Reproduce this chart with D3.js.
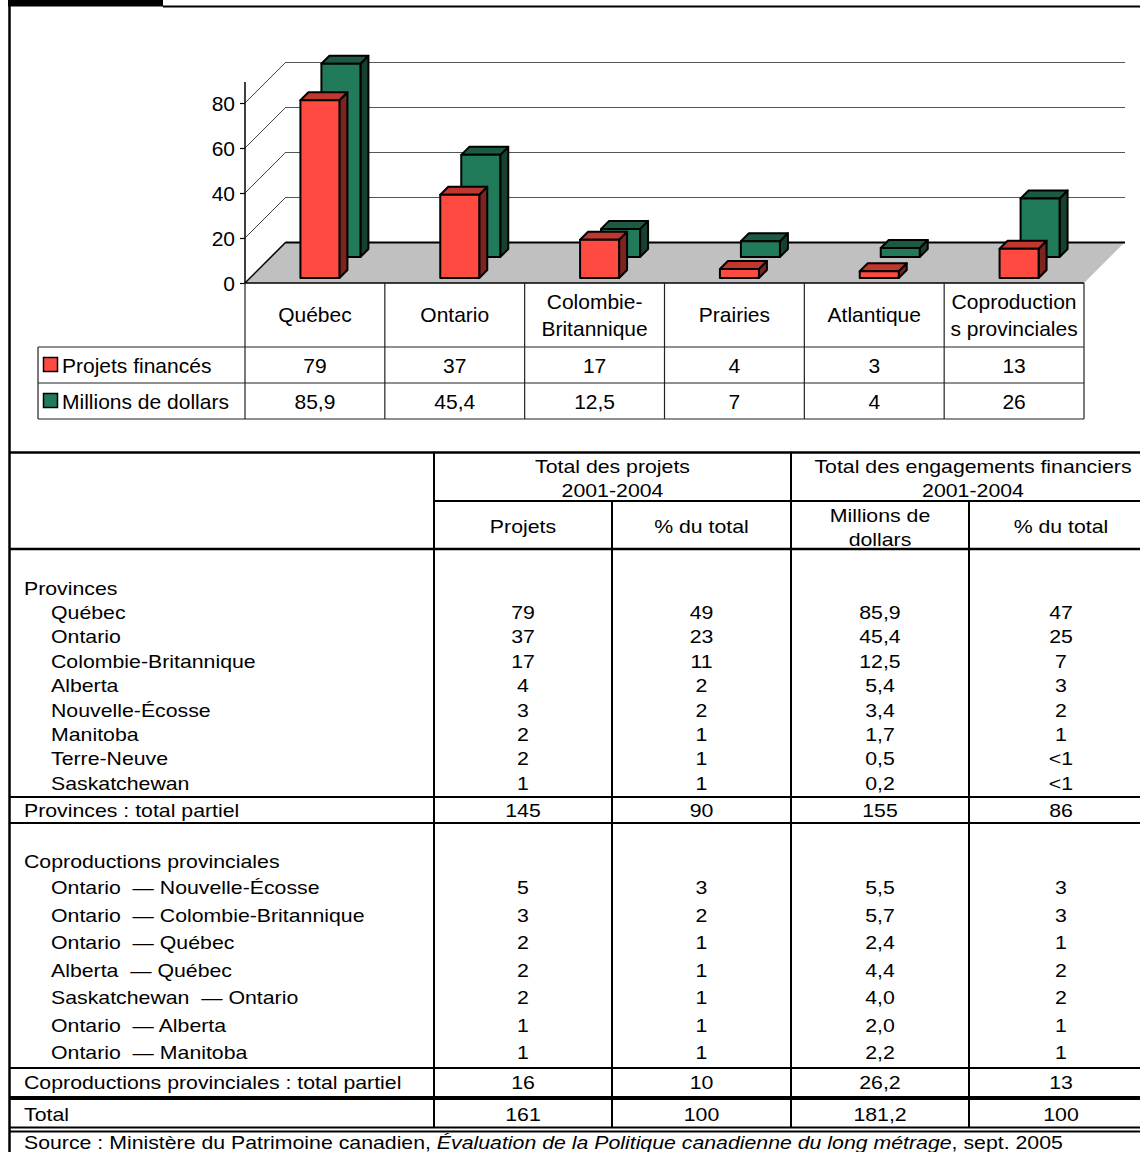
<!DOCTYPE html>
<html lang="fr">
<head>
<meta charset="utf-8">
<script src="https://cdn.jsdelivr.net/npm/d3@7"></script>
<style>
  html, body { margin: 0; padding: 0; background: #fff; }
  svg { display: block; font-family: Arial, "Liberation Sans", Helvetica, sans-serif; }
  text { fill: #000; }
</style>
</head>
<body>
<svg id="chart" width="1140" height="1152"></svg>
<script>
// Chart data: funded projects and commitments by region
const categories = [["Québec"], ["Ontario"], ["Colombie-", "Britannique"], ["Prairies"], ["Atlantique"], ["Coproduction", "s provinciales"]];
const projetsFinances = [79, 37, 17, 4, 3, 13];
const millionsDollars = [85.9, 45.4, 12.5, 7, 4, 26];
const seriesNames = ["Projets financés", "Millions de dollars"];
const yTicks = [0, 20, 40, 60, 80];

// Table data
const provinces = ["Québec", "Ontario", "Colombie-Britannique", "Alberta", "Nouvelle-Écosse", "Manitoba", "Terre-Neuve", "Saskatchewan"];
const provProjets = ["79", "37", "17", "4", "3", "2", "2", "1"];
const provPctProjets = ["49", "23", "11", "2", "2", "1", "1", "1"];
const provMillions = ["85,9", "45,4", "12,5", "5,4", "3,4", "1,7", "0,5", "0,2"];
const provPctMillions = ["47", "25", "7", "3", "2", "1", "<1", "<1"];
const provTotal = ["145", "90", "155", "86"];

const coproductions = ["Ontario  — Nouvelle-Écosse", "Ontario  — Colombie-Britannique", "Ontario  — Québec", "Alberta  — Québec", "Saskatchewan  — Ontario", "Ontario  — Alberta", "Ontario  — Manitoba"];
const coproProjets = ["5", "3", "2", "2", "2", "1", "1"];
const coproPctProjets = ["3", "2", "1", "1", "1", "1", "1"];
const coproMillions = ["5,5", "5,7", "2,4", "4,4", "4,0", "2,0", "2,2"];
const coproPctMillions = ["3", "3", "1", "2", "2", "1", "1"];
const coproTotal = ["16", "10", "26,2", "13"];
const grandTotal = ["161", "100", "181,2", "100"];

const svg = d3.select("#chart");
const FONT = 21;
const TFONT = 21.3;
const fmt = v => String(v).replace(".", ",");

// ---------- outer frame ----------
svg.append("rect").attr("x", 8).attr("y", 0).attr("width", 155).attr("height", 6.5).attr("fill", "#000");
svg.append("line").attr("x1", 163).attr("x2", 1140).attr("y1", 6.5).attr("y2", 6.5).attr("stroke", "#000").attr("stroke-width", 2);
svg.append("line").attr("x1", 9.5).attr("x2", 9.5).attr("y1", 0).attr("y2", 1152).attr("stroke", "#000").attr("stroke-width", 2.5);

// ---------- 3D column chart ----------
const x0 = 245, x1 = 1084;           // front plane extent
const floorY = 283;                  // front baseline
const depth = 41;                    // wall depth (x and y offset)
const x = d3.scaleBand().domain(d3.range(categories.length)).range([x0, x1]).padding(0);
const y = d3.scaleLinear().domain([0, 80]).range([floorY, 103]);
const barW = 39, barD = 8;
const seriesDepth = [5, 26];
const seriesColors = [
  { front: "#ff4a42", side: "#7c2420", top: "#c0372f" },
  { front: "#217a5a", side: "#17412f", top: "#1c5a42" }
];

const chart = svg.append("g");

// floor
chart.append("polygon")
  .attr("points", [[x0, floorY], [x1, floorY], [x1 + depth, floorY - depth], [x0 + depth, floorY - depth]].join(" "))
  .attr("fill", "#c0c0c0");

// back wall gridlines and left wall diagonals
yTicks.forEach(t => {
  const yy = Math.round(y(t) - depth) + 0.5;
  chart.append("line")
    .attr("x1", x0 + depth).attr("x2", x1 + depth)
    .attr("y1", yy).attr("y2", yy)
    .attr("stroke", t === 0 ? "#000" : "#555").attr("stroke-width", t === 0 ? 2 : 1.2);
  chart.append("line")
    .attr("x1", x0).attr("y1", y(t))
    .attr("x2", x0 + depth).attr("y2", y(t) - depth)
    .attr("stroke", t === 0 ? "#000" : "#444").attr("stroke-width", t === 0 ? 1.5 : 1);
});

// vertical axis
chart.append("line").attr("x1", x0).attr("x2", x0).attr("y1", y(89.3)).attr("y2", floorY).attr("stroke", "#000").attr("stroke-width", 1.5);
const yAxis = d3.axisLeft(y).tickValues(yTicks).tickSize(5).tickPadding(5);
const ag = chart.append("g").attr("transform", `translate(${x0},0)`).call(yAxis);
ag.select(".domain").remove();
ag.selectAll(".tick line").attr("stroke", "#000").attr("stroke-width", 1.2);
ag.selectAll(".tick text").attr("font-size", FONT).attr("font-family", "Arial, 'Liberation Sans', sans-serif").attr("fill", "#000").attr("dy", "0.35em");

// bars: back series first
[1, 0].forEach(s => {
  const values = s === 0 ? projetsFinances : millionsDollars;
  const dz = seriesDepth[s];
  const col = seriesColors[s];
  const g = chart.append("g");
  values.forEach((v, i) => {
    const cx = x(i) + x.bandwidth() / 2 + dz;
    const L = cx - barW / 2, R = cx + barW / 2;
    const top = y(v) - dz, bot = floorY - dz;
    const stroke = { stroke: "#000", "stroke-width": 2, "stroke-linejoin": "round" };
    const side = g.append("polygon").attr("points", [[R, top], [R + barD, top - barD], [R + barD, bot - barD], [R, bot]].join(" ")).attr("fill", col.side);
    const tp = g.append("polygon").attr("points", [[L, top], [L + barD, top - barD], [R + barD, top - barD], [R, top]].join(" ")).attr("fill", col.top);
    const fr = g.append("rect").attr("x", L).attr("y", top).attr("width", barW).attr("height", bot - top).attr("fill", col.front);
    [side, tp, fr].forEach(el => Object.entries(stroke).forEach(([k, val]) => el.attr(k, val)));
  });
});

// front edge of floor
chart.append("line").attr("x1", x0).attr("x2", x1).attr("y1", floorY).attr("y2", floorY).attr("stroke", "#000").attr("stroke-width", 1.5);

// ---------- data table under the chart ----------
const dt = svg.append("g");
const row1 = [347, 383], row2 = [383, 419];
const legendX = 38;
const gridStroke = { stroke: "#222", "stroke-width": 1.2 };
function hline(g, xa, xb, yy, st) { const l = g.append("line").attr("x1", xa).attr("x2", xb).attr("y1", yy).attr("y2", yy); Object.entries(st).forEach(([k, v]) => l.attr(k, v)); return l; }
function vline(g, xx, ya, yb, st) { const l = g.append("line").attr("x1", xx).attr("x2", xx).attr("y1", ya).attr("y2", yb); Object.entries(st).forEach(([k, v]) => l.attr(k, v)); return l; }

// vertical separators
categories.forEach((c, i) => vline(dt, x(i), floorY, row2[1], gridStroke));
vline(dt, x1, floorY, row2[1], gridStroke);
vline(dt, legendX, row1[0], row2[1], gridStroke);
hline(dt, legendX, x1, row1[0], gridStroke);
hline(dt, legendX, x1, row2[0], gridStroke);
hline(dt, legendX, x1, row2[1], gridStroke);

// category labels
categories.forEach((lines, i) => {
  const cx = x(i) + x.bandwidth() / 2;
  const t = dt.append("text").attr("text-anchor", "middle").attr("font-size", FONT);
  if (lines.length === 1) {
    t.append("tspan").attr("x", cx).attr("y", 322).text(lines[0]);
  } else {
    t.append("tspan").attr("x", cx).attr("y", 309).text(lines[0]);
    t.append("tspan").attr("x", cx).attr("y", 336).text(lines[1]);
  }
});

// legend rows with swatches and values
[projetsFinances, millionsDollars].forEach((vals, s) => {
  const r = s === 0 ? row1 : row2;
  const mid = (r[0] + r[1]) / 2;
  dt.append("rect").attr("x", 43.5).attr("y", mid - 7.5).attr("width", 14).attr("height", 14)
    .attr("fill", seriesColors[s].front).attr("stroke", "#000").attr("stroke-width", 1.5);
  dt.append("text").attr("x", 62).attr("y", mid + 7.5).attr("font-size", FONT).text(seriesNames[s]);
  vals.forEach((v, i) => {
    dt.append("text").attr("x", x(i) + x.bandwidth() / 2).attr("y", mid + 7.5)
      .attr("text-anchor", "middle").attr("font-size", FONT).text(fmt(v));
  });
});

// ---------- summary table ----------
const tb = svg.append("g");
const colX = [434, 612, 791, 969, 1147];
const colMid = [523, 701.5, 880, 1061];
const thick = { stroke: "#000", "stroke-width": 2.5 };
const med = { stroke: "#000", "stroke-width": 2 };
const SY = 0.88;   // vertical squeeze of the table type

function cell(txt, xx, yy, anchor) {
  return tb.append("text")
    .attr("transform", `translate(${xx},${yy}) scale(1,${SY})`)
    .attr("text-anchor", anchor).attr("font-size", TFONT)
    .style("white-space", "pre")
    .text(txt);
}

hline(tb, 9, 1140, 452.5, thick);
hline(tb, colX[0], 1140, 501, med);
hline(tb, 9, 1140, 549, thick);
hline(tb, 9, 1140, 797, med);
hline(tb, 9, 1140, 823, med);
hline(tb, 9, 1140, 1068, med);
hline(tb, 9, 1140, 1098, { stroke: "#000", "stroke-width": 4 });
hline(tb, 9, 1140, 1127.5, med);
hline(tb, 9, 1140, 1131.5, med);
vline(tb, colX[0], 452, 1128, med);
vline(tb, colX[2], 452, 1128, med);
vline(tb, colX[1], 501, 1128, med);
vline(tb, colX[3], 501, 1128, med);

// headers
cell("Total des projets", 612.5, 473, "middle");
cell("2001-2004", 612.5, 497, "middle");
cell("Total des engagements financiers", 973, 473, "middle");
cell("2001-2004", 973, 497, "middle");
cell("Projets", colMid[0], 533, "middle");
cell("% du total", colMid[1], 533, "middle");
cell("Millions de", colMid[2], 522, "middle");
cell("dollars", colMid[2], 546, "middle");
cell("% du total", colMid[3], 533, "middle");

function dataRow(label, indent, yy, vals) {
  cell(label, indent ? 51 : 24, yy, "start");
  if (vals) vals.forEach((v, k) => cell(v, colMid[k], yy, "middle"));
}

dataRow("Provinces", false, 595);
provinces.forEach((p, i) => dataRow(p, true, 619 + i * 24.4,
  [provProjets[i], provPctProjets[i], provMillions[i], provPctMillions[i]]));
dataRow("Provinces : total partiel", false, 817, provTotal);

dataRow("Coproductions provinciales", false, 868);
coproductions.forEach((p, i) => dataRow(p, true, 894 + i * 27.5,
  [coproProjets[i], coproPctProjets[i], coproMillions[i], coproPctMillions[i]]));
dataRow("Coproductions provinciales : total partiel", false, 1089, coproTotal);
dataRow("Total", false, 1121, grandTotal);

// source line
const src = tb.append("text")
  .attr("transform", `translate(24,1149) scale(1,${SY})`)
  .attr("font-size", TFONT).style("white-space", "pre");
src.append("tspan").text("Source : Ministère du Patrimoine canadien, ");
src.append("tspan").attr("font-style", "italic").text("Évaluation de la Politique canadienne du long métrage");
src.append("tspan").text(", sept. 2005");
</script>
</body>
</html>
